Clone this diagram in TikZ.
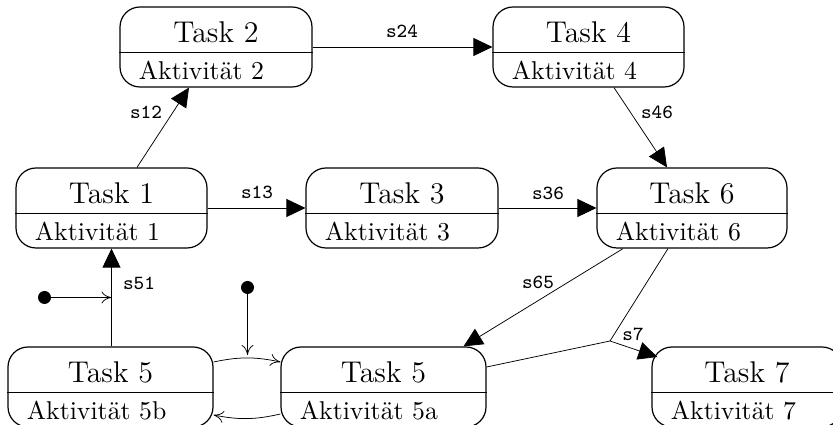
\documentclass[tikz,border=0pt]{standalone}
\usetikzlibrary{arrows.meta,calc}
\tikzset{
 statebox/.style={draw, line width=1.2pt, rounded corners=20pt, minimum width=#1, minimum height=80pt, inner sep=0pt},
 splitline/.style={line width=1.2pt},
 titletext/.style={anchor=base, font=\fontsize{12}{14}\selectfont, scale=2.5, inner sep=0pt},
 acttext/.style={anchor=base west, font=\fontsize{10.3}{12}\selectfont, scale=2.5, inner sep=0pt},
 lbl/.style={font=\ttfamily\fontsize{8}{10}\selectfont, scale=2.5, inner sep=0pt},
 trans/.style={line width=0.75pt, -{Triangle[length=19pt,width=18pt]}},
 openarr/.style={line width=0.75pt, -{To[length=10pt,width=12pt]}},
 plainline/.style={line width=0.75pt},
 initdot/.style={circle, fill, inner sep=0pt, minimum size=13pt},
}
\newcommand\mystate[6]{%
 \node[statebox=#4] (#1) at (#2,#3) {};
 \draw[splitline] ([yshift=-46pt]#1.north west) -- ([yshift=-46pt]#1.north east);
 \node[titletext] (#1-t) at ([yshift=-36pt]#1.north) {#5};
 \node[acttext] (#1-a) at ([xshift=19pt,yshift=8pt]#1.south west) {#6};
}
\begin{document}
\begin{tikzpicture}[x=1pt,y=1pt]
\useasboundingbox (0,0) rectangle (833,425);
\mystate{t2}{216}{378}{192pt}{Task 2}{Aktivität 2}
\mystate{t4}{588.5}{378}{191pt}{Task 4}{Aktivität 4}
\mystate{t1}{111.5}{217}{191pt}{Task 1}{Aktivität 1}
\mystate{t3}{402}{217}{192pt}{Task 3}{Aktivität 3}
\mystate{t6}{692}{217}{190pt}{Task 6}{Aktivität 6}
\mystate{t5b}{110.5}{38}{205pt}{Task 5}{Aktivität 5b}
\mystate{t5a}{383.5}{38}{205pt}{Task 5}{Aktivität 5a}
\mystate{t7}{747}{38}{190pt}{Task 7}{Aktivität 7}

\draw[trans] (t2.east) -- (t4.west);
\node[lbl] (l24) at (402,394) {s24};
\draw[trans] (t1.east) -- (t3.west);
\node[lbl] (l13) at (257,233) {s13};
\draw[trans] (t3.east) -- (t6.west);
\node[lbl] (l36) at (548,232) {s36};
\draw[trans] ([xshift=25.5pt]t1.north) -- ([xshift=-27pt]t2.south);
\node[lbl] (l12) at (146,313) {s12};
\draw[trans] ([xshift=25.5pt]t4.south) -- ([xshift=-25pt]t6.north);
\node[lbl] (l46) at (657,313) {s46};
\draw[trans] (t1.south |- t5b.north) -- (t1.south);
\node[lbl] (l51) at (139,142) {s51};
\draw[trans] ([xshift=-69pt]t6.south) -- ([xshift=80pt]t5a.north);
\node[lbl] (l65) at (538,143) {s65};

\coordinate (j) at (610,84);
\draw[plainline] ([xshift=-24pt]t6.south) -- (j);
\draw[plainline] ([yshift=20pt]t5a.east) -- (j);
\draw[trans] (j) -- ([xshift=6pt,yshift=30pt]t7.west);
\node[lbl] (l7) at (633,91) {s7};

\node[initdot] (d1) at (44.5,127.5) {};
\draw[openarr] (d1) -- (t1.south |- d1);
\node[initdot] (d2) at (247.5,137.5) {};
\coordinate (d2end) at (247.5,70);
\draw[openarr] (d2) -- (d2end);

\draw[openarr] ([yshift=25pt]t5b.east) to[bend left=12] ([yshift=25pt]t5a.west);
\draw[openarr] ([yshift=-27pt]t5a.west) to[bend left=12] ([yshift=-28pt]t5b.east);
\end{tikzpicture}
\end{document}
